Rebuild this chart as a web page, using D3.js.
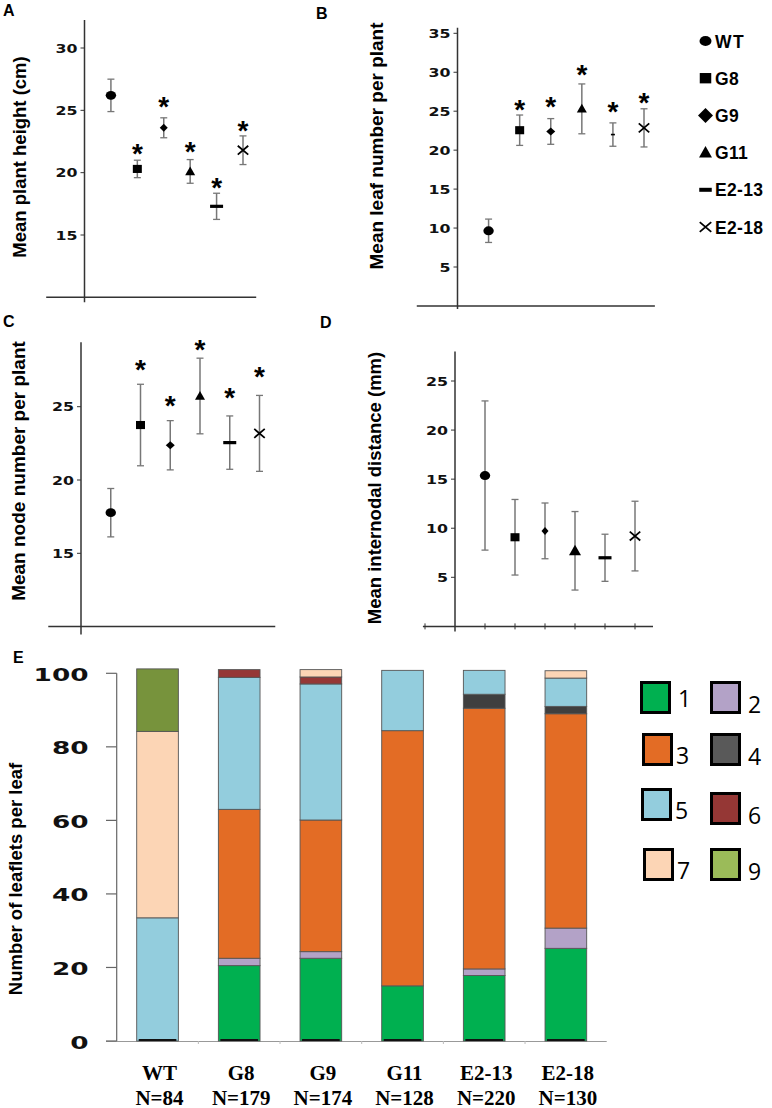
<!DOCTYPE html>
<html><head><meta charset="utf-8">
<script src="https://cdn.jsdelivr.net/npm/d3@7"></script>
<style>body{margin:0;background:#fff}svg{display:block}</style>
</head><body>
<svg id="c" width="772" height="1108"></svg>
<script>
// ---------- DATA ----------
const lines = ["WT", "G8", "G9", "G11", "E2-13", "E2-18"];
const markerTypes = ["circle", "square", "diamond", "triangle", "dash", "cross"];

const heightMean = [26.2, 20.3, 23.6, 20.1, 17.3, 21.8];
const heightErr  = [1.3, 0.7, 0.8, 0.95, 1.05, 1.15];
const heightStar = [null, 22.05, 25.77, 22.16, 19.33, 23.88];
const heightTicks = [15, 20, 25, 30];

const leafMean = [9.65, 22.56, 22.4, 25.3, 22.0, 22.86];
const leafErr  = [1.5, 1.95, 1.65, 3.2, 1.5, 2.45];
const leafStar = [null, 25.99, 26.41, 30.47, 25.68, 26.83];
const leafTicks = [5, 10, 15, 20, 25, 30, 35];

const nodeMean = [17.77, 23.75, 22.37, 25.73, 22.55, 23.18];
const nodeErr  = [1.65, 2.78, 1.68, 2.58, 1.82, 2.59];
const nodeStar = [null, 27.96, 25.5, 29.32, 26.02, 27.5];
const nodeTicks = [15, 20, 25];

const interMean = [15.37, 9.08, 9.73, 7.7, 6.99, 9.2];
const interErr  = [7.6, 3.85, 2.84, 4.0, 2.4, 3.55];
const interTicks = [5, 10, 15, 20, 25];

const leafletClasses = ["1", "2", "3", "4", "5", "6", "7", "9"];
const sampleN = ["N=84", "N=179", "N=174", "N=128", "N=220", "N=130"];
const pct1 = [0, 20.5, 22.5, 15.0, 17.8, 25.2];
const pct2 = [0, 2.0, 1.8, 0, 1.8, 5.5];
const pct3 = [0, 40.5, 35.8, 69.4, 70.9, 58.3];
const pct4 = [0, 0, 0, 0, 3.8, 2.0];
const pct5 = [33.5, 35.9, 37.0, 16.4, 6.5, 7.7];
const pct6 = [0, 2.1, 1.9, 0, 0, 0];
const pct7 = [50.7, 0, 2.0, 0, 0, 2.0];
const pct9 = [17.0, 0, 0, 0, 0, 0];
const pctTicks = [0, 20, 40, 60, 80, 100];

// ---------- STYLE ----------
const barColors = {"1":"#00b050","2":"#b3a2c7","3":"#e36c25","4":"#3f3f3f","5":"#93cddd","6":"#953735","7":"#fcd5b5","9":"#77933c"};
const legColors = {"1":"#00b050","2":"#b3a2c7","3":"#e36c25","4":"#595959","5":"#93cddd","6":"#953735","7":"#fcd5b5","9":"#9bbb59"};

const svg = d3.select("#c");
const SANS = "'Liberation Sans', Arial, sans-serif";
const WIDE = "'DejaVu Sans', Verdana, sans-serif";
const axisCol = "#333";

function drawMarker(g, type, cx, cy, s) {
  if (type === "circle") {
    g.append("ellipse").attr("cx", cx).attr("cy", cy).attr("rx", s.c).attr("ry", s.c * 0.85).attr("fill", "#000");
  } else if (type === "square") {
    g.append("rect").attr("x", cx - s.sq / 2).attr("y", cy - s.sq * 0.45).attr("width", s.sq).attr("height", s.sq * 0.9).attr("fill", "#000");
  } else if (type === "diamond") {
    const w = s.dw / 2, h = s.dh / 2;
    g.append("path").attr("d", `M${cx},${cy - h}L${cx + w},${cy}L${cx},${cy + h}L${cx - w},${cy}Z`).attr("fill", "#000");
  } else if (type === "triangle") {
    const w = s.t / 2;
    g.append("path").attr("d", `M${cx},${cy - w * 1.0}L${cx + w},${cy + w * 0.75}L${cx - w},${cy + w * 0.75}Z`).attr("fill", "#000");
  } else if (type === "dash") {
    g.append("rect").attr("x", cx - s.dash / 2).attr("y", cy - s.dashH / 2).attr("width", s.dash).attr("height", s.dashH).attr("fill", "#000");
  } else if (type === "cross") {
    const w = s.x / 2;
    g.append("path").attr("d", `M${cx - w},${cy - w * 0.85}L${cx + w},${cy + w * 0.85}M${cx - w},${cy + w * 0.85}L${cx + w},${cy - w * 0.85}`)
      .attr("stroke", "#000").attr("stroke-width", 1.8).attr("fill", "none");
  }
}

function wideText(g, txt, x, y, size, digitW, anchor) {
  return g.append("text").attr("x", x).attr("y", y).attr("font-family", WIDE).attr("font-weight", "bold")
    .attr("font-size", size).attr("text-anchor", anchor || "end").attr("fill", "#111")
    .attr("textLength", String(txt).length * digitW).attr("lengthAdjust", "spacingAndGlyphs").text(txt);
}

function scatterPanel(o) {
  const g = svg.append("g");
  const x = d3.scaleLinear().domain([0, 6]).range(o.xr);
  const y = d3.scaleLinear().domain(o.yd).range(o.yr);
  g.append("line").attr("x1", x(0)).attr("x2", x(0)).attr("y1", y(o.yTop)).attr("y2", y(o.yMin) + o.yOver)
    .attr("stroke", axisCol).attr("stroke-width", 1.5);
  g.append("line").attr("x1", x(o.xStart)).attr("x2", x(o.xEnd)).attr("y1", y(o.yMin)).attr("y2", y(o.yMin))
    .attr("stroke", axisCol).attr("stroke-width", 1.5);
  o.ticks.forEach(v => {
    g.append("line").attr("x1", x(0) - 4).attr("x2", x(0)).attr("y1", y(v)).attr("y2", y(v)).attr("stroke", axisCol).attr("stroke-width", 1);
    wideText(g, v, x(0) - 7, y(v) + 4.5, 12.5, 11);
  });
  if (o.xTicks) {
    o.xTicks.forEach(v => {
      g.append("line").attr("x1", x(v)).attr("x2", x(v)).attr("y1", y(o.yMin) - 3).attr("y2", y(o.yMin) + 3).attr("stroke", axisCol).attr("stroke-width", 1);
    });
  }
  g.append("text").attr("transform", `translate(${o.labX},${o.labY}) rotate(-90)`).attr("text-anchor", "middle")
    .attr("font-family", SANS).attr("font-weight", "bold").attr("font-size", o.labSize).attr("fill", "#000").text(o.label);
  g.append("text").attr("x", o.letX).attr("y", o.letY).attr("font-family", SANS).attr("font-weight", "bold")
    .attr("font-size", 16).attr("fill", "#000").text(o.letter);
  lines.forEach((ln, i) => {
    const cx = x(i + 1);
    const m = o.mean[i], e = o.err[i];
    g.append("line").attr("x1", cx).attr("x2", cx).attr("y1", y(m + e)).attr("y2", y(m - e)).attr("stroke", "#777").attr("stroke-width", 1.5);
    [m + e, m - e].forEach(v => g.append("line").attr("x1", cx - 3.5).attr("x2", cx + 3.5).attr("y1", y(v)).attr("y2", y(v))
      .attr("stroke", "#777").attr("stroke-width", 1.3));
    drawMarker(g, markerTypes[i], cx, y(m), o.ms);
    if (o.star && o.star[i] != null) {
      g.append("text").attr("x", cx).attr("y", y(o.star[i]) + 15.5).attr("text-anchor", "middle")
        .attr("font-family", SANS).attr("font-weight", "bold").attr("font-size", 28).attr("fill", "#000").text("*");
    }
  });
}

const msStd = {c: 5.2, sq: 9, dw: 8, dh: 8, t: 10, dash: 13, dashH: 3.2, x: 10.5};
scatterPanel({xr: [84.5, 243], yd: [15, 30], yr: [235, 48], yTop: 32.25, yMin: 10, yOver: 5, xStart: -1.45, xEnd: 6.5,
  ticks: heightTicks, mean: heightMean, err: heightErr, star: heightStar, ms: msStd,
  label: "Mean plant height (cm)", labX: 26, labY: 157, labSize: 18.5, letter: "A", letX: 3, letY: 16});
scatterPanel({xr: [457.5, 644], yd: [5, 35], yr: [267, 33.3], yTop: 35.7, yMin: 0, yOver: 3, xStart: -1.31, xEnd: 6.35,
  ticks: leafTicks, mean: leafMean, err: leafErr, star: leafStar, ms: Object.assign({}, msStd, {dash: 4, dashH: 1.6, dw: 9, dh: 8}),
  label: "Mean leaf number per plant", labX: 383, labY: 146, labSize: 19, letter: "B", letX: 316, letY: 19});
scatterPanel({xr: [81, 259.5], yd: [15, 25], yr: [553.3, 406.7], yTop: 29.4, yMin: 10, yOver: 8, xStart: -1.1, xEnd: 6.53,
  ticks: nodeTicks, mean: nodeMean, err: nodeErr, star: nodeStar, ms: Object.assign({}, msStd, {dw: 9}),
  label: "Mean node number per plant", labX: 25, labY: 471, labSize: 19, letter: "C", letX: 3, letY: 327});
scatterPanel({xr: [455, 635], yd: [5, 25], yr: [577.3, 381], yTop: 28, yMin: 0, yOver: 5, xStart: -1.07, xEnd: 6.6,
  ticks: interTicks, mean: interMean, err: interErr, star: null, ms: Object.assign({}, msStd, {t: 12, dw: 7}),
  xTicks: [-1, 1, 2, 3, 4, 5, 6],
  label: "Mean internodal distance (mm)", labX: 381, labY: 488, labSize: 18.5, letter: "D", letX: 320, letY: 328});

// legend for A-D
const legG = svg.append("g");
const legMs = {c: 6, sq: 11.5, dw: 15, dh: 15, t: 13, dash: 12.5, dashH: 4, x: 11.5};
lines.forEach((ln, i) => {
  const yy = 41 + i * 37.2;
  drawMarker(legG, markerTypes[i], 705.5, yy, legMs);
  legG.append("text").attr("x", 715).attr("y", yy + 6.5).attr("font-family", SANS).attr("font-weight", "bold")
    .attr("font-size", 17.5).attr("fill", "#000").attr("letter-spacing", ln === "WT" ? 1.5 : 0.3).text(ln);
});

// ---------- PANEL E ----------
const gE = svg.append("g");
const rows = lines.map((ln, i) => ({line: ln, "1": pct1[i], "2": pct2[i], "3": pct3[i], "4": pct4[i], "5": pct5[i], "6": pct6[i], "7": pct7[i], "9": pct9[i]}));
const xE = d3.scaleBand().domain(lines).range([116.7, 606.7]).paddingInner(0.49).paddingOuter(0.245);
const yE = d3.scaleLinear().domain([0, 100]).range([1041, 673.3]);
const stacked = d3.stack().keys(leafletClasses)(rows);

gE.append("line").attr("x1", 106).attr("x2", 606.7).attr("y1", yE(0) + 0.5).attr("y2", yE(0) + 0.5).attr("stroke", "#999").attr("stroke-width", 1.2);
gE.append("line").attr("x1", 116.7).attr("x2", 116.7).attr("y1", yE(100)).attr("y2", yE(0)).attr("stroke", "#666").attr("stroke-width", 1.2);
pctTicks.forEach(v => {
  gE.append("line").attr("x1", 106).attr("x2", 116.7).attr("y1", yE(v)).attr("y2", yE(v)).attr("stroke", "#666").attr("stroke-width", 1.2);
  wideText(gE, v, 88.5, yE(v) + 7.5, 17.5, 18.3);
});
const bandStep = xE.step();
lines.slice(1).forEach(ln => {
  const xx = xE(ln) - (bandStep - xE.bandwidth()) / 2;
  gE.append("line").attr("x1", xx).attr("x2", xx).attr("y1", yE(0)).attr("y2", yE(0) + 3).attr("stroke", "#bbb").attr("stroke-width", 1);
});

stacked.forEach(layer => {
  gE.selectAll(null).data(layer.filter(d => d[1] - d[0] > 0)).enter().append("rect")
    .attr("x", d => xE(d.data.line)).attr("width", xE.bandwidth())
    .attr("y", d => yE(d[1])).attr("height", d => yE(d[0]) - yE(d[1]))
    .attr("fill", barColors[layer.key]).attr("stroke", "#555").attr("stroke-width", 0.9);
});
lines.forEach(ln => {
  gE.append("line").attr("x1", xE(ln) + 2).attr("x2", xE(ln) + xE.bandwidth() - 2).attr("y1", yE(0) - 1).attr("y2", yE(0) - 1)
    .attr("stroke", "#111").attr("stroke-width", 2.2);
});

lines.forEach((ln, i) => {
  const cx = xE(ln) + xE.bandwidth() / 2 + 2;
  gE.append("text").attr("x", cx).attr("y", 1079.5).attr("text-anchor", "middle").attr("font-family", "'Liberation Serif', 'Times New Roman', serif")
    .attr("font-weight", "bold").attr("font-size", 21).attr("fill", "#000").text(ln);
  gE.append("text").attr("x", cx).attr("y", 1104.5).attr("text-anchor", "middle").attr("font-family", "'Liberation Serif', 'Times New Roman', serif")
    .attr("font-weight", "bold").attr("font-size", 21).attr("fill", "#000").text(sampleN[i]);
});

gE.append("text").attr("transform", "translate(22,879) rotate(-90)").attr("text-anchor", "middle").attr("font-family", SANS)
  .attr("font-weight", "bold").attr("font-size", 18.5).attr("fill", "#000").text("Number of leaflets per leaf");
gE.append("text").attr("x", 13).attr("y", 663).attr("font-family", SANS).attr("font-weight", "bold").attr("font-size", 16).attr("fill", "#000").text("E");

const legRowsY = [681, 733, 788, 848];
const legColX = [640, 710];
leafletClasses.forEach((k, i) => {
  const col = i % 2, row = Math.floor(i / 2);
  const x0 = legColX[col] + (col === 0 ? [0, 2, 1, 3][row] : 0);
  const y0 = legRowsY[row] + (col === 1 && row === 2 ? 4 : 0);
  gE.append("rect").attr("x", x0 + 1.5).attr("y", y0 + 1.5).attr("width", 28).attr("height", 30)
    .attr("fill", legColors[k]).attr("stroke", "#000").attr("stroke-width", 3);
  gE.append("text").attr("x", x0 + 38 - (col === 0 && row > 0 ? 4 : 0)).attr("y", y0 + (col === 0 ? (row === 0 ? 26 : 31) : 32))
    .attr("font-family", "'Open Sans', 'Noto Sans', sans-serif").attr("font-size", 23).attr("fill", "#000").text(k);
});
</script>
</body></html>
